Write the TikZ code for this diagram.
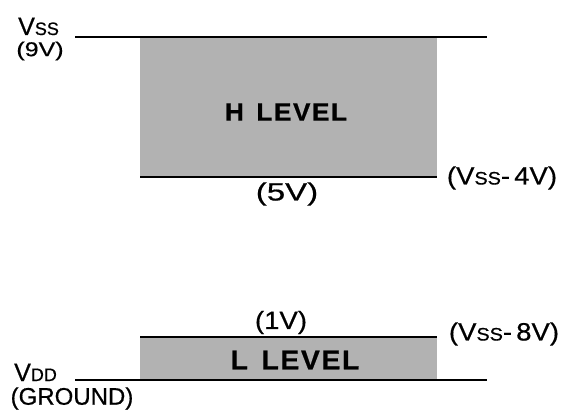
\documentclass[tikz,border=0pt]{standalone}
\usepackage{fontspec}
\setmainfont{Liberation Sans}[FakeBold=0.6]
\newcommand{\sizeA}{\fontsize{25}{27}\selectfont}
\newcommand{\sizeS}{\fontsize{18}{20}\selectfont}
\begin{document}
\begin{tikzpicture}[x=1pt,y=-1pt,
  lvl/.style={line width=1.6pt},
  band/.style={fill=black!30,draw=none},
  lab/.style={inner sep=0pt,font=\sizeA},
  levtxt/.style={inner sep=0pt,font=\fontsize{25}{27}\selectfont\bfseries\addfontfeature{LetterSpace=6,FakeStretch=1.05}}]
\useasboundingbox (0,0) rectangle (572,412);
% bands
\fill[band] (140,38) rectangle (437,177);
\fill[band] (140,337) rectangle (437,380);
% level lines
\coordinate (vssL) at (75,37);
\coordinate (vssR) at (487,37);
\draw[lvl] (vssL) -- (vssR);
\coordinate (hL) at (140,177);
\coordinate (hR) at (437,177);
\draw[lvl] (hL) -- (hR);
\coordinate (lL) at (140,337);
\coordinate (lR) at (437,337);
\draw[lvl] (lL) -- (lR);
\coordinate (vddL) at (75,380);
\coordinate (vddR) at (487,380);
\draw[lvl] (vddL) -- (vddR);
% texts
\node[lab,anchor=base west] (vss) at (18,35) {V\sizeS SS};
\node[inner sep=0pt,font=\fontsize{20}{22}\selectfont\addfontfeature{FakeStretch=1.25}] (nine) at (40,51) {(9V)};
\node[levtxt] (hlev) at (286,112) {H\hspace{0.5em}LEVEL};
\node[lab,font=\sizeA\addfontfeature{FakeStretch=1.32}] (five) at (287,194) {(5V)};
\node[lab,font=\sizeA\addfontfeature{FakeStretch=1.1}] (m4) at (502,178) {(V\sizeS SS\sizeA-\,4V)};
\node[lab,font=\sizeA\addfontfeature{FakeStretch=1.1}] (one) at (281,322.5) {(1V)};
\node[lab,font=\sizeA\addfontfeature{FakeStretch=1.1}] (m8) at (504,334) {(V\sizeS SS\sizeA-\,8V)};
\node[levtxt,font=\fontsize{27}{29}\selectfont\bfseries\addfontfeature{LetterSpace=6,FakeStretch=1.05}] (llev) at (295,360) {L\hspace{0.5em}LEVEL};
\node[lab,anchor=base west] (vdd) at (14,381) {V\sizeS DD};
\node[lab,font=\fontsize{24}{26}\selectfont] (gnd) at (72,398.5) {(GROUND)};
\end{tikzpicture}
\end{document}
